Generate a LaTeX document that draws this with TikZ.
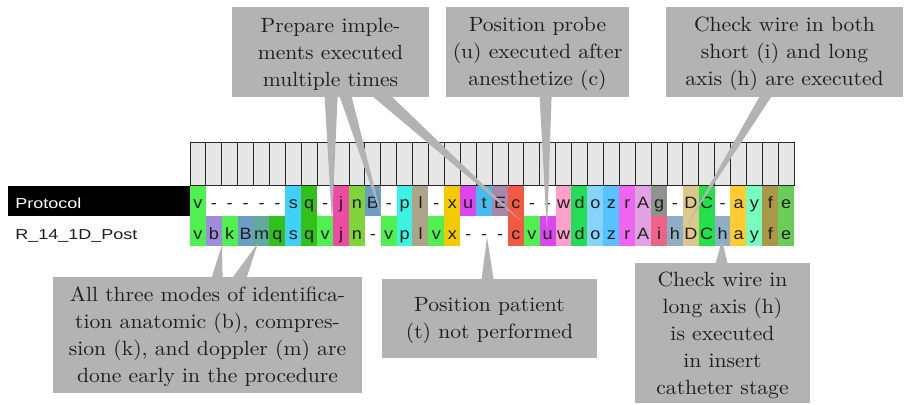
\documentclass[tikz,border=0pt]{standalone}
\usepackage{fontspec}
\setmainfont{lmroman10-regular}[Extension=.otf, FakeStretch=1.05]
\newfontfamily\cellfont{Liberation Sans}[FakeStretch=1.1]
\newfontfamily\labelfont{Liberation Sans}[FakeStretch=1.25]
\usetikzlibrary{calc,fit}
\definecolor{cv}{HTML}{50F050}
\definecolor{cb}{HTML}{A08CDC}
\definecolor{cBB}{HTML}{6B9EC2}
\definecolor{cm}{HTML}{62AA9E}
\definecolor{cq}{HTML}{33C01A}
\definecolor{cs}{HTML}{40D0F8}
\definecolor{cj}{HTML}{EE4CA4}
\definecolor{cn}{HTML}{7ED43A}
\definecolor{cp}{HTML}{3CF2E2}
\definecolor{cl}{HTML}{AEA488}
\definecolor{cx}{HTML}{F2CC00}
\definecolor{cu}{HTML}{DC46EE}
\definecolor{ct}{HTML}{46BCEE}
\definecolor{cEE}{HTML}{A888A8}
\definecolor{cc}{HTML}{F25A46}
\definecolor{cw}{HTML}{FFA0CC}
\definecolor{cd}{HTML}{24DC58}
\definecolor{co}{HTML}{88D2FF}
\definecolor{cz}{HTML}{56C2FF}
\definecolor{cr}{HTML}{EE66F0}
\definecolor{cAA}{HTML}{E2A2E2}
\definecolor{cg}{HTML}{8C948C}
\definecolor{ci}{HTML}{EE6488}
\definecolor{ch}{HTML}{8EAEC8}
\definecolor{cDD}{HTML}{DCC88C}
\definecolor{cCC}{HTML}{24E04A}
\definecolor{ca}{HTML}{FFCC33}
\definecolor{cy}{HTML}{78FFBE}
\definecolor{cf}{HTML}{A89848}
\definecolor{ce}{HTML}{6CCC58}
\definecolor{calloutgray}{HTML}{B3B3B3}
\definecolor{hdrgray}{HTML}{E6E6E6}
\definecolor{inkcol}{HTML}{1E1E1E}
\tikzset{
  cellbox/.style={inner sep=0pt, minimum width=8.1pt, minimum height=15pt,
    text height=8pt, text depth=0pt, font=\cellfont\fontsize{8.2}{9}\selectfont, text=inkcol},
  hdrbox/.style={draw=black!85, line width=0.5pt, fill=hdrgray, inner sep=0pt,
    minimum width=7.95pt, minimum height=21.75pt},
  callout/.style={fill=calloutgray, inner sep=0pt},
  callouttext/.style={inner sep=0pt, align=center, text=inkcol,
    font=\fontsize{10.3}{13.5}\selectfont},
  wedge/.style={fill=calloutgray},
  rowlabel/.style={font=\labelfont\fontsize{7.2}{9}\selectfont, inner sep=0pt}
}
\begin{document}
\begin{tikzpicture}[x=0.5pt,y=-0.5pt]
\fill[white] (0,0) rectangle (910,405);
\useasboundingbox (0,0) rectangle (910,405);
% header cells
\foreach \i in {0,...,37}{
  \pgfmathsetmacro\xx{190+15.9*(\i+0.5)}
  \node[hdrbox] (h\i) at (\xx,164.25) {};
}
% row labels
\node[fill=black, minimum width=91pt, minimum height=15pt, inner sep=0pt, anchor=west] (plabelbox) at (8,201) {};
\node[rowlabel, text=white, anchor=base west] (plabel) at (15,208.5) {Protocol};
\node[rowlabel, text=inkcol, anchor=base west] (rlabel) at (15,239.5) {R\_14\_1D\_Post};
% protocol row
\foreach \l/\c [count=\i from 0] in {v/cv,-/white,-/white,-/white,-/white,-/white,s/cs,q/cq,-/white,j/cj,n/cn,B/cBB,-/white,p/cp,l/cl,-/white,x/cx,u/cu,t/ct,E/cEE,c/cc,-/white,-/white,w/cw,d/cd,o/co,z/cz,r/cr,A/cAA,g/cg,-/white,D/cDD,C/cCC,-/white,a/ca,y/cy,f/cf,e/ce}{
  \pgfmathsetmacro\xx{190+15.9*(\i+0.5)}
  \node[cellbox, fill=\c] (p\i) at (\xx,201) {\l};
}
% R_14_1D_Post row
\foreach \l/\c [count=\i from 0] in {v/cv,b/cb,k/cv,B/cBB,m/cm,q/cq,s/cs,q/cq,v/cv,j/cj,n/cn,-/white,v/cv,p/cp,l/cl,v/cv,x/cx,-/white,-/white,-/white,c/cc,v/cv,u/cu,w/cw,d/cd,o/co,z/cz,r/cr,A/cAA,i/ci,h/ch,D/cDD,C/cCC,h/ch,a/ca,y/cy,f/cf,e/ce}{
  \pgfmathsetmacro\xx{190+15.9*(\i+0.5)}
  \node[cellbox, fill=\c] (r\i) at (\xx,231.5) {\l};
}
% tips
\coordinate (tipA) at (332,223);
\coordinate (tipB) at (382,218);
\coordinate (tipC) at (522,222);
\coordinate (tipD) at (547,233);
\coordinate (tipE) at (687,225);
\coordinate (tipF) at (222,245);
\coordinate (tipG) at (258,243);
\coordinate (tipH) at (487,237);
\coordinate (tipI) at (722,240);
% callout boxes
\node[callout, fit={(232,7)(429,97)}] (b1) {};
\node[callout, fit={(446,7)(629,97)}] (b2) {};
\node[callout, fit={(666,7)(903,97)}] (b3) {};
\node[callout, fit={(53,277)(362,393)}] (b4) {};
\node[callout, fit={(382,279)(597,358)}] (b5) {};
\node[callout, fit={(635,263)(810,403)}] (b6) {};
% wedges
\fill[wedge] ($(b1.south west)+(93,-1)$) -- (tipA) -- ($(b1.south west)+(106,-1)$) -- cycle;
\fill[wedge] ($(b1.south west)+(108,-1)$) -- (tipB) -- ($(b1.south west)+(120,-1)$) -- cycle;
\fill[wedge] ($(b1.south west)+(141,-1)$) -- (tipC) -- ($(b1.south west)+(160,-1)$) -- cycle;
\fill[wedge] ($(b2.south west)+(94,-1)$) -- (tipD) -- ($(b2.south west)+(106,-1)$) -- cycle;
\fill[wedge] ($(b3.south west)+(94,-1)$) -- (tipE) -- ($(b3.south west)+(106,-1)$) -- cycle;
\fill[wedge] ($(b4.north west)+(159,1)$) -- (tipF) -- ($(b4.north west)+(170,1)$) -- cycle;
\fill[wedge] ($(b4.north west)+(180,1)$) -- (tipG) -- ($(b4.north west)+(194,1)$) -- cycle;
\fill[wedge] ($(b5.north west)+(100,1)$) -- (tipH) -- ($(b5.north west)+(112,1)$) -- cycle;
\fill[wedge] ($(b6.north west)+(81,1)$) -- (tipI) -- ($(b6.north west)+(93,1)$) -- cycle;
% callout texts
\node[callouttext] (t1) at ($(b1.center)+(0,2)$) {Prepare imple-\\ments executed\\multiple times};
\node[callouttext] (t2) at ($(b2.center)+(0,2)$) {Position probe\\(u) executed after\\anesthetize (c)};
\node[callouttext] (t3) at ($(b3.center)+(0,2)$) {Check wire in both\\short (i) and long\\axis (h) are executed};
\node[callouttext] (t4) at ($(b4.center)+(0,2)$) {All three modes of identifica-\\tion anatomic (b), compres-\\sion (k), and doppler (m) are\\done early in the procedure};
\node[callouttext] (t5) at ($(b5.center)+(0,2)$) {Position patient\\(t) not performed};
\node[callouttext] (t6) at ($(b6.center)+(0,2)$) {Check wire in\\long axis (h)\\is executed\\in insert\\catheter stage};
\end{tikzpicture}
\end{document}
